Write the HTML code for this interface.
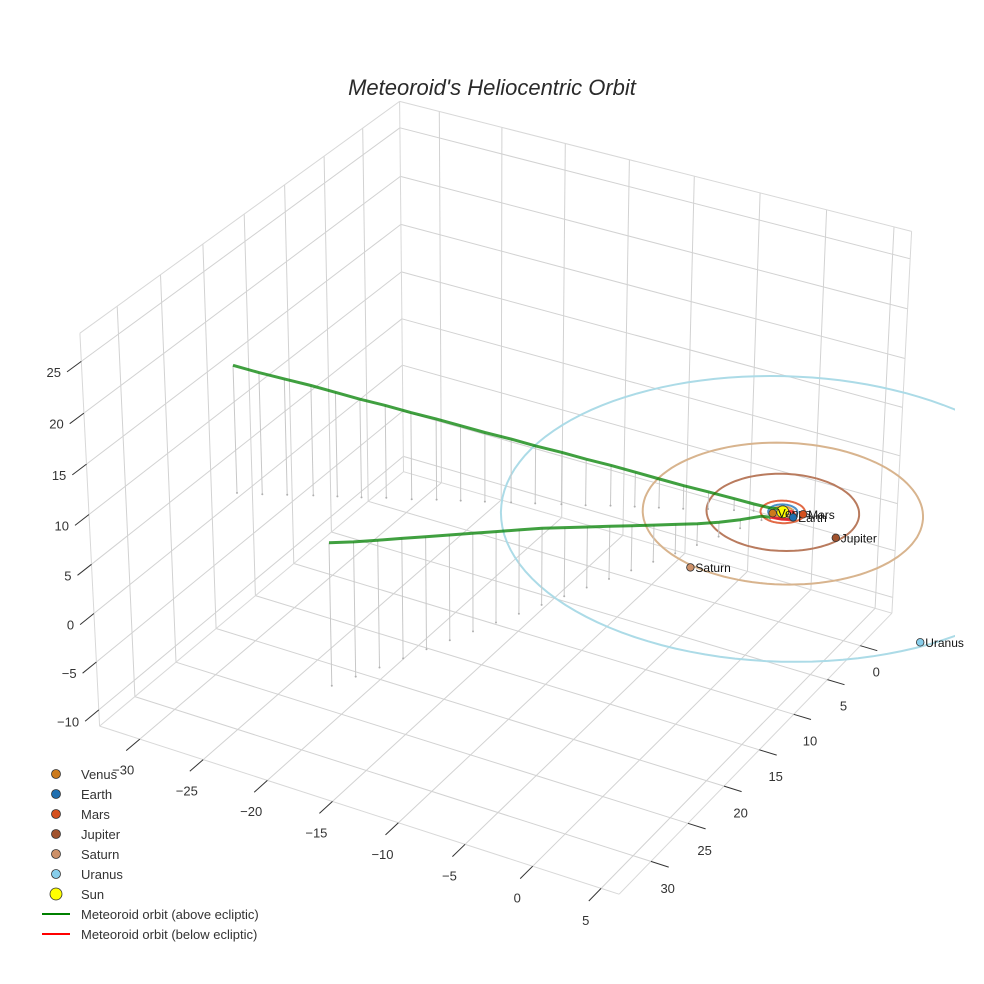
<!DOCTYPE html>
<html><head><meta charset="utf-8"><title>Meteoroid's Heliocentric Orbit</title>
<style>
html,body{margin:0;padding:0;background:#fff;}
#wrap{position:relative;width:984px;height:984px;overflow:hidden;font-family:"Liberation Sans",sans-serif;}
svg text{font-family:"Liberation Sans",sans-serif;}
</style></head>
<body>
<div id="wrap">
<svg id="chart" width="984" height="984" viewBox="0 0 984 984">
<defs><clipPath id="sceneclip"><rect x="0" y="0" width="955" height="984"/></clipPath></defs>
<text x="492" y="95" text-anchor="middle" font-size="22" font-style="italic" fill="#2a2a2a">Meteoroid's Heliocentric Orbit</text>
<g id="grid"></g>
<g id="ticks"></g>
<g id="plot" clip-path="url(#sceneclip)"></g>
<g id="labels"></g>
<g id="legend">
  <g><circle cx="56" cy="774" r="4.5" fill="#cc7a1c" stroke="#333" stroke-width="0.8"/><text x="81" y="779" font-size="13" fill="#333">Venus</text></g>
  <g><circle cx="56" cy="794" r="4.5" fill="#1f6fb0" stroke="#333" stroke-width="0.8"/><text x="81" y="799" font-size="13" fill="#333">Earth</text></g>
  <g><circle cx="56" cy="814" r="4.5" fill="#d4501e" stroke="#333" stroke-width="0.8"/><text x="81" y="819" font-size="13" fill="#333">Mars</text></g>
  <g><circle cx="56" cy="834" r="4.5" fill="#a0522d" stroke="#333" stroke-width="0.8"/><text x="81" y="839" font-size="13" fill="#333">Jupiter</text></g>
  <g><circle cx="56" cy="854" r="4.5" fill="#cd9068" stroke="#333" stroke-width="0.8"/><text x="81" y="859" font-size="13" fill="#333">Saturn</text></g>
  <g><circle cx="56" cy="874" r="4.5" fill="#87ceeb" stroke="#333" stroke-width="0.8"/><text x="81" y="879" font-size="13" fill="#333">Uranus</text></g>
  <g><circle cx="56" cy="894" r="6" fill="#ffff00" stroke="#333" stroke-width="0.8"/><text x="81" y="899" font-size="13" fill="#333">Sun</text></g>
  <g><line x1="42" y1="914" x2="70" y2="914" stroke="green" stroke-width="2"/><text x="81" y="919" font-size="13" fill="#333">Meteoroid orbit (above ecliptic)</text></g>
  <g><line x1="42" y1="934" x2="70" y2="934" stroke="red" stroke-width="2"/><text x="81" y="939" font-size="13" fill="#333">Meteoroid orbit (below ecliptic)</text></g>
</g>
</svg>
</div>
<script>
// ---- data ----
const xTicks = [-30,-25,-20,-15,-10,-5,0,5];
const yTicks = [0,5,10,15,20,25,30];
const zTicks = [-10,-5,0,5,10,15,20,25];
const xTickLabels = ["\u221230","\u221225","\u221220","\u221215","\u221210","\u22125","0","5"];
const yTickLabels = ["0","5","10","15","20","25","30"];
const zTickLabels = ["\u221210","\u22125","0","5","10","15","20","25"];
const xRange = [-33.2, 6.3];
const yRange = [-4.9, 34.2];
const zRange = [-11.7, 27.7];

const planetNames = ["Venus","Earth","Mars","Jupiter","Saturn","Uranus"];
const planetX = [-0.52, 0.95, 1.35, 4.7, -2.0, 15.5];
const planetY = [0.50, 0.31, -0.40, 1.3, 9.6, 10.5];
const planetZ = [0, 0, 0, 0, 0, 0];
const orbitRadii = [0.72, 1.0, 1.52, 5.2, 9.55, 19.2];
const planetColors = ["#cc7a1c","#1f6fb0","#d4501e","#a0522d","#cd9068","#87ceeb"];
const orbitColors = ["#e0a050","#4d90c8","#e26a45","#b97b5e","#d8b48e","#acdbe7"];

const orbitX = [-33.6,-32,-30.5,-28.9,-27.4,-25.9,-24.4,-22.8,-21.3,-19.8,-18.3,-16.7,-15.2,-13.6,-12.1,-10.6,-9.1,-7.6,-6.1,-4.6,-3,-1.8,-0.8,-0.1,0.5,0.85,0.75,0.35,-0.3,-0.75,-1.5,-2.25,-3,-3.75,-4.5,-5.25,-6,-6.75,-7.5,-8.25,-9,-9.75,-10.5,-11.25,-12,-12.75,-13.5,-14.25,-15];
const orbitY = [16.3,15.6,14.8,14.0,13.3,12.6,11.8,11.1,10.3,9.6,8.9,8.1,7.4,6.6,5.9,5.1,4.4,3.7,3.0,2.2,1.45,0.85,0.3,-0.25,-0.6,-0.2,0.4,0.85,1.3,1.7,3.4,5.1,6.8,8.5,10.2,11.9,13.6,15.3,17,18.7,20.4,22.1,23.8,25.5,27.2,28.9,30.6,32.3,34];
const orbitZ = [13.2,12.6,12.0,11.4,10.8,10.2,9.6,9.0,8.4,7.8,7.2,6.6,6.0,5.4,4.8,4.2,3.6,3.0,2.4,1.8,1.2,0.7,0.3,0.05,-0.25,-0.35,-0.25,-0.05,0.2,0.4,0.9,1.5,2.2,3.0,3.8,4.6,5.4,6.2,7.0,7.8,8.5,9.2,9.9,10.6,11.3,12.0,12.7,13.4,14.2];

// ---- projection fit (camera from box corners) ----
const NS = "http://www.w3.org/2000/svg";
const X0=xRange[0],X1=xRange[1],Y0=yRange[0],Y1=yRange[1],Z0=zRange[0],Z1=zRange[1];
const refs = [
 [[X0,Y1,Z0],[99,727]],[[X1,Y1,Z0],[620,893]],[[X1,Y0,Z0],[893,613]],[[X0,Y0,Z0],[404,470]],
 [[X0,Y1,Z1],[80,333]],[[X0,Y0,Z1],[400,102]],[[X1,Y0,Z1],[912,230]],[[0,0,0],[780,515]]
];
function nd(p){return [(p[0]+13.45)/20,(p[1]-14.65)/20,(p[2]-8)/20];}
function fitCam(){
  const A=[],b=[];
  refs.forEach(r=>{const [X,Y,Z]=nd(r[0]);const u=(r[1][0]-500)/400,v=(r[1][1]-500)/400;
    A.push([X,Y,Z,1,0,0,0,0,-u*X,-u*Y,-u*Z]);b.push(u);
    A.push([0,0,0,0,X,Y,Z,1,-v*X,-v*Y,-v*Z]);b.push(v);});
  const n=11,M=[];
  for(let i=0;i<n;i++){M.push([]);for(let j=0;j<=n;j++){let s=0;for(let k=0;k<A.length;k++)s+=A[k][i]*(j<n?A[k][j]:b[k]);M[i].push(s);}}
  for(let c=0;c<n;c++){let pv=c;for(let r=c+1;r<n;r++)if(Math.abs(M[r][c])>Math.abs(M[pv][c]))pv=r;
    [M[c],M[pv]]=[M[pv],M[c]];
    for(let r=0;r<n;r++){if(r===c)continue;const f=M[r][c]/M[c][c];for(let j=c;j<=n;j++)M[r][j]-=f*M[c][j];}}
  return M.map((row,i)=>row[n]/row[i]);
}
const cam = fitCam();
function P(x,y,z){const [X,Y,Z]=nd([x,y,z]);const w=cam[8]*X+cam[9]*Y+cam[10]*Z+1;
  return [500+400*(cam[0]*X+cam[1]*Y+cam[2]*Z+cam[3])/w, 500+400*(cam[4]*X+cam[5]*Y+cam[6]*Z+cam[7])/w];}
function mk(tag,attrs,parent){const e=document.createElementNS(NS,tag);for(const k in attrs)e.setAttribute(k,attrs[k]);parent.appendChild(e);return e;}
function seg(a,b,stroke,w,parent){const p=P(...a),q=P(...b);return mk('line',{x1:p[0].toFixed(1),y1:p[1].toFixed(1),x2:q[0].toFixed(1),y2:q[1].toFixed(1),stroke:stroke,'stroke-width':w},parent);}

const grid=document.getElementById('grid'), ticks=document.getElementById('ticks'), plot=document.getElementById('plot'), labels=document.getElementById('labels');
const GC="#d2d2d2";
xTicks.forEach(x=>{const l=seg([x,Y0,Z0],[x,Y1,Z0],GC,1,grid);

});
yTicks.forEach(y=>{const l=seg([X0,y,Z0],[X1,y,Z0],GC,1,grid);

});
yTicks.forEach(y=>{const l=seg([X0,y,Z0],[X0,y,Z1],GC,1,grid);

});
zTicks.forEach(z=>{const l=seg([X0,Y1,z],[X0,Y0,z],GC,1,grid);

});
xTicks.forEach(x=>{const l=seg([x,Y0,Z0],[x,Y0,Z1],GC,1,grid);

});
zTicks.forEach(z=>{const l=seg([X0,Y0,z],[X1,Y0,z],GC,1,grid);

});
[[[X0,Y1,Z0],[X1,Y1,Z0]],[[X1,Y1,Z0],[X1,Y0,Z0]],[[X0,Y1,Z0],[X0,Y1,Z1]],[[X1,Y0,Z0],[X1,Y0,Z1]],
 [[X0,Y1,Z1],[X0,Y0,Z1]],[[X0,Y0,Z1],[X1,Y0,Z1]],[[X0,Y0,Z0],[X0,Y0,Z1]],[[X0,Y1,Z0],[X0,Y0,Z0]],[[X0,Y0,Z0],[X1,Y0,Z0]]].forEach(e=>{
  const l=seg(e[0],e[1],"#d8d8d8",1,grid);
  
  });

xTicks.forEach((x,i)=>{const l=seg([x,Y1,Z0],[x,Y1+1.6,Z0],"#333",1,ticks);


const e=P(x,Y1+1.6,Z0);
const t=mk('text',{x:(e[0]-3).toFixed(1),y:(e[1]+24).toFixed(1),'text-anchor':'middle','font-size':13,fill:'#333'},ticks);
t.textContent=xTickLabels[i];

});
yTicks.forEach((y,i)=>{const l=seg([X1,y,Z0],[X1+1.3,y,Z0],"#333",1,ticks);


const e=P(X1+1.3,y,Z0);
const t=mk('text',{x:(e[0]-1).toFixed(1),y:(e[1]+26).toFixed(1),'text-anchor':'middle','font-size':13,fill:'#333'},ticks);
t.textContent=yTickLabels[i];

});
zTicks.forEach((z,i)=>{const l=seg([X0,Y1,z],[X0,Y1+1.6,z],"#333",1,ticks);


const e=P(X0,Y1+1.6,z);
const t=mk('text',{x:(e[0]-6).toFixed(1),y:(e[1]+5).toFixed(1),'text-anchor':'end','font-size':13,fill:'#333'},ticks);
t.textContent=zTickLabels[i];

});

orbitRadii.forEach((r,i)=>{let d="";for(let a=0;a<=360;a+=3){const p=P(r*Math.cos(a*Math.PI/180),r*Math.sin(a*Math.PI/180),0);d+=(a?"L":"M")+p[0].toFixed(1)+","+p[1].toFixed(1);}
const o=mk('path',{d:d,fill:'none',stroke:orbitColors[i],'stroke-width':2},plot);

});

orbitX.forEach((x,i)=>{const top=[x,orbitY[i],orbitZ[i]],foot=[x,orbitY[i],0];
const l=seg(top,foot,"#c8c8c8",1,plot);


const f=P(...foot);
const c=mk('circle',{cx:f[0].toFixed(1),cy:f[1].toFixed(1),r:1,fill:'#b0b0b0'},plot);

});

let run=[],runBelow=null;
function flush(){if(run.length<2)return;const d=run.map((p,k)=>(k?"L":"M")+p[0].toFixed(1)+","+p[1].toFixed(1)).join("");
const pth=mk('path',{d:d,fill:'none',stroke:runBelow?'red':'green','stroke-width':3,'stroke-opacity':0.75,'stroke-linejoin':'round'},plot);

}
for(let i=0;i<orbitX.length-1;i++){
  const below = orbitZ[i]<0 || orbitZ[i+1]<0;
  if(below!==runBelow){flush();run=[P(orbitX[i],orbitY[i],orbitZ[i])];runBelow=below;}
  run.push(P(orbitX[i+1],orbitY[i+1],orbitZ[i+1]));
}
flush();

const sp=P(0,0,0);
const sun=mk('circle',{cx:sp[0].toFixed(1),cy:sp[1].toFixed(1),r:6,fill:'#ffff00',stroke:'#333','stroke-width':0.8},plot);



planetNames.forEach((n,i)=>{const p=P(planetX[i],planetY[i],planetZ[i]);
const c=mk('circle',{cx:p[0].toFixed(1),cy:p[1].toFixed(1),r:3.8,fill:planetColors[i],stroke:'#333','stroke-width':0.8},labels);


const t=mk('text',{x:(p[0]+5).toFixed(1),y:(p[1]+4.5).toFixed(1),'font-size':12,fill:'#111'},labels);
t.textContent=n;

});
</script>
</body></html>
